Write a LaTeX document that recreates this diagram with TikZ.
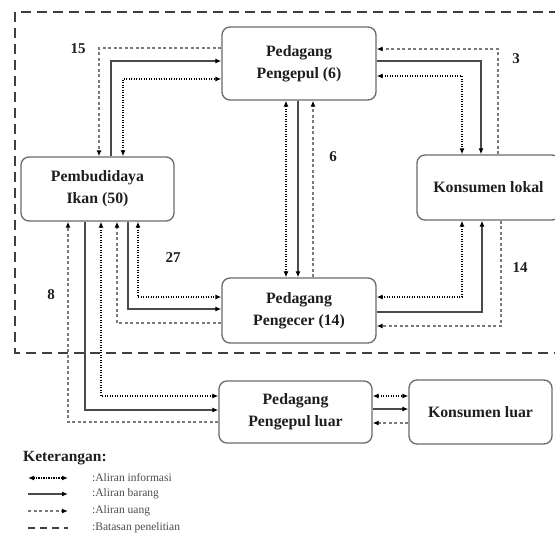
\documentclass[tikz,border=0pt]{standalone}
\usepackage{fontspec}
\setmainfont{Liberation Serif}
\usetikzlibrary{arrows.meta}
\definecolor{boxline}{HTML}{6A6A6A}
\definecolor{goodsc}{HTML}{4A4A4A}
\definecolor{moneyc}{HTML}{7A7A7A}
\definecolor{txtc}{HTML}{1E1E1E}
\begin{document}
\begin{tikzpicture}[x=1pt,y=-1pt,
  actor/.style={draw=boxline, line width=1.3pt, rounded corners=8pt, fill=white,
    inner sep=0pt, align=center, text=txtc,
    font=\fontsize{15.8}{22}\selectfont\bfseries},
  num/.style={text=txtc, font=\fontsize{15}{18}\selectfont\bfseries, inner sep=0pt},
  info/.style={draw=black, line width=1.3pt, dash pattern=on 1.3pt off 1.2pt,
    {Latex[length=6pt,width=5pt,color=black]}-{Latex[length=6pt,width=5pt,color=black]}},
  goods/.style={draw=goodsc, line width=1.3pt, -{Latex[length=6pt,width=5pt,color=black]}},
  money/.style={draw=moneyc, line width=1.2pt, dash pattern=on 3pt off 2.5pt,
    -{Latex[length=6pt,width=5pt,color=black]}},
  border/.style={draw=black!75, line width=2.2pt, dash pattern=on 10pt off 6pt},
  legtxt/.style={anchor=west, text=black!70, inner sep=0pt,
    font=\fontsize{11.5}{13}\selectfont}
]
\clip (0,0) rectangle (555,536);
\useasboundingbox (0,0) rectangle (555,536);

% research boundary
\draw[border] (575,12) -- (15,12) -- (15,353) -- (575,353);

% actors
\node[actor, minimum width=154pt, minimum height=73pt] (pengepul) at (299,63.5) {Pedagang\\Pengepul (6)};
\node[actor, minimum width=153pt, minimum height=64pt] (pemb) at (97.5,189) {Pembudidaya\\Ikan (50)};
\node[actor, minimum width=143pt, minimum height=65pt] (kons) at (488.5,187.5) {Konsumen lokal};
\node[actor, minimum width=154pt, minimum height=65pt] (pengecer) at (299,310.5) {Pedagang\\Pengecer (14)};
\node[actor, minimum width=153pt, minimum height=62pt] (luar) at (295.5,412) {Pedagang\\Pengepul luar};
\node[actor, minimum width=143pt, minimum height=64pt] (konsluar) at (480.5,412) {Konsumen luar};

% Pembudidaya -- Pengepul
\draw[money] (pengepul.west |- 0,48) -| (pemb.north -| 99,0);
\draw[goods] (pemb.north -| 111,0) |- (pengepul.west |- 0,61);
\draw[info]  (pemb.north -| 123,0) |- (pengepul.west |- 0,79);

% Pengepul -- Konsumen lokal
\draw[money] (kons.north -| 498,0) |- (pengepul.east |- 0,49);
\draw[goods] (pengepul.east |- 0,61) -| (kons.north -| 481,0);
\draw[info]  (pengepul.east |- 0,76) -| (kons.north -| 462,0);

% Pengepul -- Pengecer
\draw[info]  (pengepul.south -| 286,0) -- (pengecer.north -| 286,0);
\draw[goods] (pengepul.south -| 298,0) -- (pengecer.north -| 298,0);
\draw[money] (pengecer.north -| 313,0) -- (pengepul.south -| 313,0);

% Pembudidaya -- Pengecer
\draw[info]  (pemb.south -| 138,0) |- (pengecer.west |- 0,297);
\draw[goods] (pemb.south -| 128,0) |- (pengecer.west |- 0,309);
\draw[money] (pengecer.west |- 0,323) -| (pemb.south -| 117,0);

% Pembudidaya -- Pengepul luar
\draw[info]  (pemb.south -| 101,0) |- (luar.west |- 0,396);
\draw[goods] (pemb.south -| 85,0) |- (luar.west |- 0,410);
\draw[money] (luar.west |- 0,422) -| (pemb.south -| 68,0);

% Pengecer -- Konsumen lokal
\draw[info]  (kons.south -| 462,0) |- (pengecer.east |- 0,297);
\draw[goods] (pengecer.east |- 0,312) -| (kons.south -| 482,0);
\draw[money] (kons.south -| 501,0) |- (pengecer.east |- 0,326);

% Pengepul luar -- Konsumen luar
\draw[info]  (luar.east |- 0,396) -- (konsluar.west |- 0,396);
\draw[goods] (luar.east |- 0,409) -- (konsluar.west |- 0,409);
\draw[money] (konsluar.west |- 0,423) -- (luar.east |- 0,423);

% counts
\node[num] (n15) at (78,49) {15};
\node[num] (n3) at (516,59) {3};
\node[num] (n6) at (333,157) {6};
\node[num] (n27) at (173,258) {27};
\node[num] (n8) at (51,295) {8};
\node[num] (n14) at (520,268) {14};

% legend
\node[anchor=west, inner sep=0pt, text=txtc, font=\fontsize{15.5}{18}\selectfont\bfseries] (ket) at (23,458) {Keterangan:};
\coordinate (l1a) at (28,478); \coordinate (l1b) at (68,478);
\coordinate (l2a) at (28,494); \coordinate (l2b) at (68,494);
\coordinate (l3a) at (28,511); \coordinate (l3b) at (68,511);
\coordinate (l4a) at (28,528); \coordinate (l4b) at (68,528);
\draw[info] (l1a) -- (l1b);
\draw[goods] (l2a) -- (l2b);
\draw[money] (l3a) -- (l3b);
\draw[draw=black!75, line width=2pt, dash pattern=on 7pt off 5pt] (l4a) -- (l4b);
\node[legtxt] (t1) at (92,478) {:Aliran informasi};
\node[legtxt] (t2) at (92,494) {:Aliran barang};
\node[legtxt] (t3) at (92,511) {:Aliran uang};
\node[legtxt] (t4) at (92,528) {:Batasan penelitian};
\end{tikzpicture}
\end{document}
